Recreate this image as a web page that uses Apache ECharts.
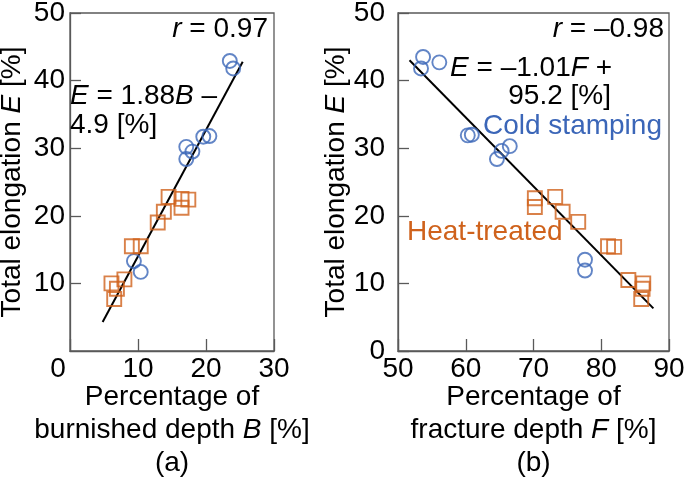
<!DOCTYPE html>
<html><head><meta charset="utf-8">
<script src="https://cdn.jsdelivr.net/npm/echarts@6/dist/echarts.min.js"></script>
<style>html,body{margin:0;padding:0;background:#fff}#c{width:685px;height:479px}</style>
</head><body><div id="c"></div>
<script>
// (a) burnished depth B vs total elongation E
var coldB = [23.5, 24.0, 19.6, 20.5, 17.1, 18.0, 17.1, 9.4, 10.4];
var coldE_a = [42.9, 41.8, 31.7, 31.8, 30.2, 29.5, 28.4, 13.3, 11.7];
var heatB = [14.5, 16.4, 17.4, 16.4, 13.8, 12.9, 9.1, 10.4, 8.0, 6.1, 6.9, 6.5];
var heatE_a = [22.8, 22.5, 22.4, 21.2, 20.6, 19.0, 15.5, 15.5, 10.6, 10.0, 9.2, 7.7];
var fitB = [4.8, 25.4];
var fitE_a = [4.3, 42.8];
// (b) fracture depth F vs total elongation E
var coldF = [53.7, 53.4, 56.1, 60.3, 60.9, 66.5, 65.3, 64.6, 77.6, 77.6];
var coldE_b = [43.5, 41.8, 42.7, 31.9, 32.0, 30.3, 29.6, 28.4, 13.5, 11.9];
var heatF = [70.2, 70.2, 73.2, 74.3, 76.6, 81.0, 81.9, 84.0, 86.2, 86.1, 85.9];
var heatE_b = [22.6, 21.3, 22.8, 20.6, 19.1, 15.5, 15.4, 10.5, 10.0, 9.2, 7.7];
var fitF = [51.7, 87.7];
var fitE_b = [43.0, 6.3];
// ticks
var xTicksA = [0, 10, 20, 30];
var xTicksB = [50, 60, 70, 80, 90];
var yTicks = [0, 10, 20, 30, 40, 50];

var BLUE = '#3B66B8', ORANGE = '#CF621C', AX = '#595959';
var FONT = 'Liberation Sans, Arial, sans-serif';
var FS = 28;
function zip(a, b) { return a.map(function (v, i) { return [v, b[i]]; }); }

var chart = echarts.init(document.getElementById('c'), null, {renderer: 'canvas'});
function xAxis(gi, ticks, nameRich, leftZeroShift) {
  return {
    type: 'value', gridIndex: gi, min: ticks[0], max: ticks[ticks.length - 1], interval: 10,
    axisLine: {show: true, lineStyle: {color: AX, width: 1.3}},
    axisTick: {show: true, inside: true, length: 12, lineStyle: {color: AX, width: 1.3}},
    splitLine: {show: false},
    axisLabel: {
      color: '#000', fontSize: FS, fontFamily: FONT, margin: 4,
      formatter: function (v) { return (leftZeroShift && v === 0) ? '{z|0}' : String(v); },
      rich: {z: {fontSize: FS, fontFamily: FONT, color: '#000', padding: [0, 24, 0, 0]}}
    },
    name: nameRich, nameLocation: 'middle', nameGap: 30, nameMoveOverlap: false,
    nameTextStyle: {
      color: '#000', fontSize: FS, fontFamily: FONT, lineHeight: 33,
      rich: {i: {fontStyle: 'italic', fontSize: FS, fontFamily: FONT, color: '#000', lineHeight: 33}}
    }
  };
}
function yAxis(gi, showZero, gap, margin) {
  return {
    type: 'value', gridIndex: gi, min: yTicks[0], max: yTicks[yTicks.length - 1], interval: 10,
    axisLine: {show: true, lineStyle: {color: AX, width: 1.3}},
    axisTick: {show: true, inside: true, length: 11, lineStyle: {color: AX, width: 1.3}},
    splitLine: {show: false},
    axisLabel: {color: '#000', fontSize: FS, fontFamily: FONT, margin: margin, showMinLabel: showZero,
      formatter: function (v) { return (!showZero && v === 0) ? '' : String(v); }},
    name: 'Total elongation {i|E} [%]', nameLocation: 'middle', nameGap: gap, nameMoveOverlap: false,
    nameTextStyle: {color: '#000', fontSize: FS, fontFamily: FONT,
      rich: {i: {fontStyle: 'italic', fontSize: FS, fontFamily: FONT, color: '#000'}}}
  };
}
function scat(gi, data, sym, color) {
  return {type: 'scatter', xAxisIndex: gi, yAxisIndex: gi, data: data, symbol: sym, symbolSize: 14,
    itemStyle: {color: 'rgba(0,0,0,0)', borderColor: color, borderWidth: 1.9}, silent: true, z: 3};
}
function fit(gi, data) {
  return {type: 'line', xAxisIndex: gi, yAxisIndex: gi, data: data, symbol: 'none',
    lineStyle: {color: '#000', width: 2}, silent: true, z: 2};
}
var tx = function (x, y, text, align, color) {
  return {type: 'text', x: x, y: y, silent: true, z: 10,
    style: {text: text, align: align, verticalAlign: 'middle', fill: color || '#000',
      fontSize: FS, fontFamily: FONT,
      rich: {i: {fontStyle: 'italic', fontSize: FS, fontFamily: FONT, fill: color || '#000'}}}};
};
chart.setOption({
  animation: false,
  backgroundColor: '#fff',
  grid: [
    {left: 70, top: 13, width: 204, height: 338, outerBoundsMode: 'none', containLabel: false, show: true, borderColor: AX, borderWidth: 1.3, backgroundColor: 'transparent'},
    {left: 398, top: 13, width: 271, height: 338, outerBoundsMode: 'none', containLabel: false, show: true, borderColor: AX, borderWidth: 1.3, backgroundColor: 'transparent'}
  ],
  xAxis: [
    xAxis(0, xTicksA, 'Percentage of\nburnished depth {i|B} [%]\n(a)', true),
    xAxis(1, xTicksB, 'Percentage of\nfracture depth {i|F} [%]\n(b)', false)
  ],
  yAxis: [yAxis(0, false, 44, 5), yAxis(1, true, 48, 13)],
  series: [
    fit(0, zip(fitB, fitE_a)),
    scat(0, zip(coldB, coldE_a), 'circle', BLUE),
    scat(0, zip(heatB, heatE_a), 'rect', ORANGE),
    fit(1, zip(fitF, fitE_b)),
    scat(1, zip(coldF, coldE_b), 'circle', BLUE),
    scat(1, zip(heatF, heatE_b), 'rect', ORANGE)
  ],
  graphic: [
    tx(268, 29, '{i|r} = 0.97', 'right'),
    tx(70, 96, '{i|E} = 1.88{i|B} \u2013', 'left'),
    tx(70, 125, '4.9 [%]', 'left'),
    tx(664, 29, '{i|r} = \u20130.98', 'right'),
    tx(612, 68, '{i|E} = \u20131.01{i|F} +', 'right'),
    tx(611, 96, '95.2 [%]', 'right'),
    tx(483, 126, 'Cold stamping', 'left', BLUE),
    tx(407, 232, 'Heat-treated', 'left', ORANGE)
  ]
});
</script></body></html>
